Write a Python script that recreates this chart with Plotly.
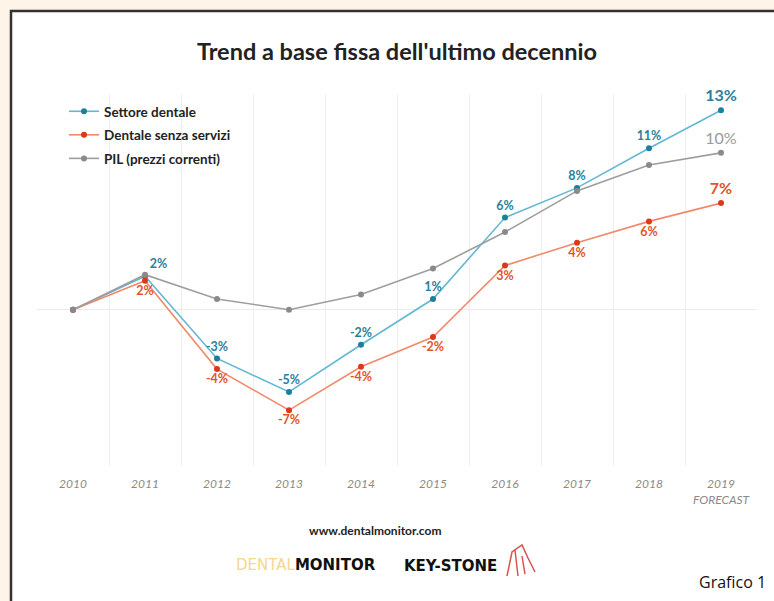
import plotly.graph_objects as go

years = ["2010", "2011", "2012", "2013", "2014", "2015", "2016", "2017", "2018", "2019<br>FORECAST"]
settore = [0, 2.2, -3.2, -5.4, -2.3, 0.7, 6.05, 8.0, 10.6, 13.1]
senza_servizi = [0, 1.9, -3.9, -6.6, -3.75, -1.8, 2.9, 4.4, 5.8, 7.0]
pil = [0, 2.3, 0.7, 0.0, 1.0, 2.7, 5.1, 7.8, 9.5, 10.3]
names = ["Settore dentale", "Dentale senza servizi", "PIL (prezzi correnti)"]

xi = list(range(len(years)))

def lab(vals, show):
    return [f"{round(v)}%" if s else "" for v, s in zip(vals, show)]

n = len(years)
blue_text = lab(settore, [False] + [True] * (n - 1))
red_text = lab(senza_servizi, [False] + [True] * (n - 1))
grey_text = lab(pil, [False] * (n - 1) + [True])

blue_pos = ["top center", "top right"] + ["top center"] * (n - 2)
red_pos = ["bottom center"] * (n - 1) + ["top center"]
sizes = [12.5] * (n - 1) + [16]

FONT = "Lato"
fig = go.Figure()
fig.add_trace(go.Scatter(
    x=xi, y=settore, name=names[0], mode="lines+markers+text",
    line=dict(color="#62b8d3", width=1.6), marker=dict(color="#1b7f9e", size=6),
    text=blue_text, textposition=blue_pos,
    textfont=dict(color="#2b7f9c", size=sizes, family=FONT, weight="bold"),
    legendgroup="a", cliponaxis=False))
fig.add_trace(go.Scatter(
    x=xi, y=senza_servizi, name=names[1], mode="lines+markers+text",
    line=dict(color="#f08a6a", width=1.6), marker=dict(color="#e0361c", size=6),
    text=red_text, textposition=red_pos,
    textfont=dict(color="#e2532a", size=sizes, family=FONT, weight="bold"),
    legendgroup="b", cliponaxis=False))
fig.add_trace(go.Scatter(
    x=xi, y=pil, name=names[2], mode="lines+markers+text",
    line=dict(color="#9e9e9e", width=1.6), marker=dict(color="#8a8a8a", size=6),
    text=grey_text, textposition="top center",
    textfont=dict(color="#9a9a9a", size=sizes, family=FONT),
    legendgroup="c", cliponaxis=False))

# plot area geometry (pixels) for paper-coordinate helpers
L, R, T, B = 37, 757, 95, 465
W, H = R - L, B - T
def px(x):
    return (x - L) / W
def py(y):
    return (B - y) / H

fig.update_layout(
    width=774, height=601,
    margin=dict(l=L, r=774 - R, t=T, b=601 - B),
    paper_bgcolor="#fff4e8", plot_bgcolor="white",
    font=dict(family=FONT, color="#333"),
    title=dict(text="<b>Trend a base fissa dell'ultimo decennio</b>",
               x=397 / 774, xanchor="center", y=1 - 52 / 601, yanchor="middle",
               font=dict(size=23.5, color="#222", family=FONT)),
    showlegend=True,
    legend=dict(x=px(64), y=py(96), xanchor="left", yanchor="top",
                bgcolor="rgba(0,0,0,0)", itemwidth=30, tracegroupgap=3,
                font=dict(size=13.5, color="#222", family=FONT, weight="bold")),
    xaxis=dict(range=[-0.5, 9.5], tickmode="array", tickvals=xi, ticktext=years,
               showgrid=False, zeroline=False, showline=False,
               ticks="outside", ticklen=8, tickcolor="rgba(0,0,0,0)",
               tickfont=dict(size=12, color="#8a8a8a", family=FONT, style="italic"),
               minor=dict(tickmode="linear", tick0=0.5, dtick=1, showgrid=True,
                          gridcolor="#eeeeee", gridwidth=1)),
    yaxis=dict(range=[-10.2, 14.1], showgrid=False, showticklabels=False,
               zeroline=True, zerolinecolor="#ebebeb", zerolinewidth=1, showline=False),
)

# white framed panel
fig.add_shape(type="rect", xref="paper", yref="paper", layer="below",
              x0=px(11), x1=px(790), y0=py(620), y1=py(11),
              fillcolor="white", line=dict(color="#333333", width=2.5))

def note(x, y, text, font, xanchor="center"):
    fig.add_annotation(xref="paper", yref="paper", x=px(x), y=py(y), text=text,
                       showarrow=False, xanchor=xanchor, yanchor="middle", font=font)

note(375, 530, "www.dentalmonitor.com",
     dict(size=12, color="#222", family=FONT, weight="bold"))
note(306, 565, "<span style='color:#f4d890'>DENTAL</span><b>MONITOR</b>",
     dict(size=15, color="#111", family="DejaVu Sans"))
note(450, 566, "<b>KEY-STONE</b>",
     dict(size=15, color="#111", family="DejaVu Sans"))
fig.add_shape(type="path", xref="paper", yref="paper",
              path=f"M {px(507)},{py(576)} L {px(512)},{py(552)} L {px(522)},{py(545)} "
                   f"L {px(528)},{py(558)} L {px(535)},{py(572)} M {px(515)},{py(550)} "
                   f"L {px(518)},{py(576)} M {px(522)},{py(556)} L {px(525)},{py(574)}",
              line=dict(color="#d9534f", width=1.5))
note(768, 582, "Grafico 1", dict(size=16, color="#111", family="Open Sans"), xanchor="right")

fig.write_html("out.html", config={"displayModeBar": False},
               post_script="document.body.style.margin='0';document.body.style.background='#fff4e8';")
